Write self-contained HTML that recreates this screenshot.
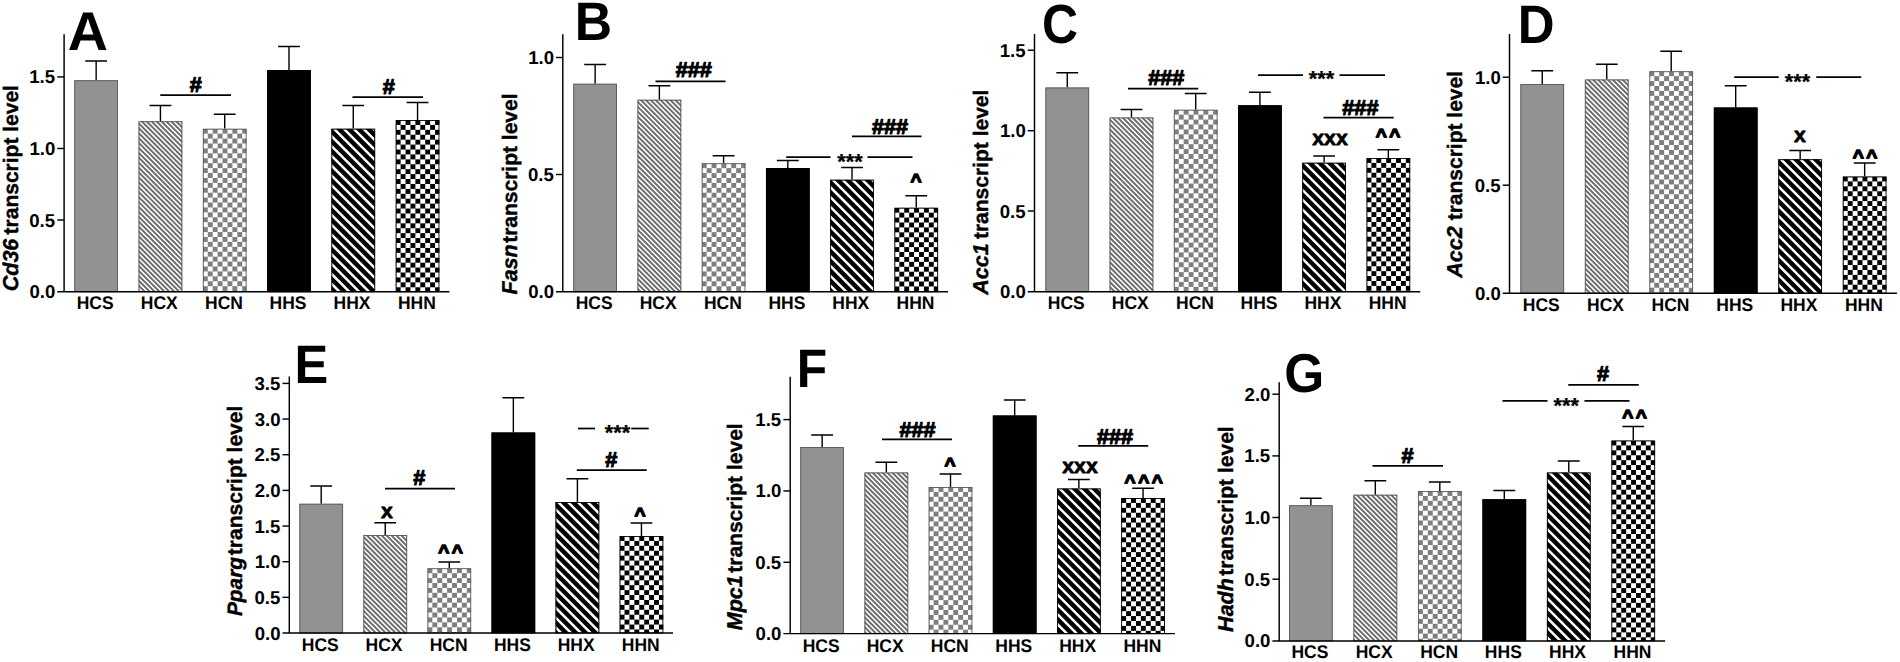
<!DOCTYPE html>
<html lang="en"><head><meta charset="utf-8"><title>Transcript levels</title>
<style>html,body{margin:0;padding:0;background:#fff}body{width:1900px;height:662px;overflow:hidden}svg{display:block}text{font-family:"Liberation Sans", Arial, Helvetica, sans-serif;font-weight:bold;fill:#000;text-rendering:geometricPrecision}.s{stroke:#000;stroke-linejoin:round}</style>
</head><body>
<svg width="1900" height="662" viewBox="0 0 1900 662">
<defs>
<pattern id="checkg" patternUnits="userSpaceOnUse" width="9.84" height="9.84"><rect width="9.84" height="9.84" fill="#fff"/><rect width="4.92" height="4.92" fill="#7e7e7e"/><rect x="4.92" y="4.92" width="4.92" height="4.92" fill="#7e7e7e"/></pattern>
<pattern id="checkk" patternUnits="userSpaceOnUse" width="9.84" height="9.84"><rect width="9.84" height="9.84" fill="#fff"/><rect width="4.92" height="4.92" fill="#000"/><rect x="4.92" y="4.92" width="4.92" height="4.92" fill="#000"/></pattern>
</defs>
<rect width="1900" height="662" fill="#fff"/>
<g>
<path d="M96.15 80.25 V61 M85.25 61 H107.05" stroke="#000" stroke-width="1.4" fill="none"/>
<g transform="translate(74.3 80.25)"><rect width="43.7" height="211.45" fill="#929292"/><rect x="0.45" y="0.45" width="42.8" height="211" fill="none" stroke="#5a5a5a" stroke-width="0.9"/></g>
<text transform="translate(76.73 309) scale(1 1.05)" font-size="17.5">HCS</text>
<path d="M160.43 121.25 V105.5 M149.53 105.5 H171.33" stroke="#000" stroke-width="1.4" fill="none"/>
<g transform="translate(138.58 121.25)"><clipPath id="c0"><rect width="43.7" height="170.45"/></clipPath><rect width="43.7" height="170.45" fill="#6c6c6c"/><path clip-path="url(#c0)" d="M-173.6 -2l174.45 174.45M-168.68 -2l174.45 174.45M-163.76 -2l174.45 174.45M-158.84 -2l174.45 174.45M-153.92 -2l174.45 174.45M-149 -2l174.45 174.45M-144.08 -2l174.45 174.45M-139.16 -2l174.45 174.45M-134.24 -2l174.45 174.45M-129.32 -2l174.45 174.45M-124.4 -2l174.45 174.45M-119.48 -2l174.45 174.45M-114.56 -2l174.45 174.45M-109.64 -2l174.45 174.45M-104.72 -2l174.45 174.45M-99.8 -2l174.45 174.45M-94.88 -2l174.45 174.45M-89.96 -2l174.45 174.45M-85.04 -2l174.45 174.45M-80.12 -2l174.45 174.45M-75.2 -2l174.45 174.45M-70.28 -2l174.45 174.45M-65.36 -2l174.45 174.45M-60.44 -2l174.45 174.45M-55.52 -2l174.45 174.45M-50.6 -2l174.45 174.45M-45.68 -2l174.45 174.45M-40.76 -2l174.45 174.45M-35.84 -2l174.45 174.45M-30.92 -2l174.45 174.45M-26 -2l174.45 174.45M-21.08 -2l174.45 174.45M-16.16 -2l174.45 174.45M-11.24 -2l174.45 174.45M-6.32 -2l174.45 174.45M-1.4 -2l174.45 174.45M3.52 -2l174.45 174.45M8.44 -2l174.45 174.45M13.36 -2l174.45 174.45M18.28 -2l174.45 174.45M23.2 -2l174.45 174.45M28.12 -2l174.45 174.45M33.04 -2l174.45 174.45M37.96 -2l174.45 174.45M42.88 -2l174.45 174.45" stroke="#fff" stroke-width="1.55" fill="none"/><rect x="0.45" y="0.45" width="42.8" height="170" fill="none" stroke="#5a5a5a" stroke-width="0.9"/></g>
<text transform="translate(140.74 309) scale(1 1.05)" font-size="17.5">HCX</text>
<path d="M224.71 128.75 V114.25 M213.81 114.25 H235.61" stroke="#000" stroke-width="1.4" fill="none"/>
<g transform="translate(202.86 128.75)"><rect width="43.7" height="162.95" fill="url(#checkg)"/><rect x="0.45" y="0.45" width="42.8" height="162.5" fill="none" stroke="#5a5a5a" stroke-width="0.9"/></g>
<text transform="translate(205.04 309) scale(1 1.05)" font-size="17.5">HCN</text>
<path d="M288.99 70 V46.5 M278.09 46.5 H299.89" stroke="#000" stroke-width="1.4" fill="none"/>
<g transform="translate(267.14 70)"><rect width="43.7" height="221.7" fill="#000"/><rect x="0.45" y="0.45" width="42.8" height="221.25" fill="none" stroke="#000" stroke-width="0.9"/></g>
<text transform="translate(269.56 309) scale(1 1.05)" font-size="17.5">HHS</text>
<path d="M353.27 128.75 V105.5 M342.37 105.5 H364.17" stroke="#000" stroke-width="1.4" fill="none"/>
<g transform="translate(331.42 128.75)"><clipPath id="c1"><rect width="43.7" height="162.95"/></clipPath><rect width="43.7" height="162.95" fill="#000"/><path clip-path="url(#c1)" d="M-166.73 -2l166.95 166.95M-156.89 -2l166.95 166.95M-147.05 -2l166.95 166.95M-137.21 -2l166.95 166.95M-127.37 -2l166.95 166.95M-117.53 -2l166.95 166.95M-107.69 -2l166.95 166.95M-97.85 -2l166.95 166.95M-88.01 -2l166.95 166.95M-78.17 -2l166.95 166.95M-68.33 -2l166.95 166.95M-58.49 -2l166.95 166.95M-48.65 -2l166.95 166.95M-38.81 -2l166.95 166.95M-28.97 -2l166.95 166.95M-19.13 -2l166.95 166.95M-9.29 -2l166.95 166.95M0.55 -2l166.95 166.95M10.39 -2l166.95 166.95M20.23 -2l166.95 166.95M30.07 -2l166.95 166.95M39.91 -2l166.95 166.95M49.75 -2l166.95 166.95" stroke="#fff" stroke-width="2.5" fill="none"/><rect x="0.45" y="0.45" width="42.8" height="162.5" fill="none" stroke="#000" stroke-width="0.9"/></g>
<text transform="translate(333.58 309) scale(1 1.05)" font-size="17.5">HHX</text>
<path d="M417.55 120 V102.5 M406.65 102.5 H428.45" stroke="#000" stroke-width="1.4" fill="none"/>
<g transform="translate(395.7 120)"><rect width="43.7" height="171.7" fill="url(#checkk)"/><rect x="0.45" y="0.45" width="42.8" height="171.25" fill="none" stroke="#000" stroke-width="0.9"/></g>
<text transform="translate(397.88 309) scale(1 1.05)" font-size="17.5">HHN</text>
<path d="M64.1 34.3 V291.7 M57.3 291.7 H449.4" stroke="#000" stroke-width="1.45" fill="none"/>
<text x="29.49" y="298.2" font-size="18.6">0.0</text>
<path d="M57.3 220 H64.1" stroke="#000" stroke-width="1.45"/>
<text x="29.26" y="226.5" font-size="18.6">0.5</text>
<path d="M57.3 148.5 H64.1" stroke="#000" stroke-width="1.45"/>
<text x="29.49" y="155" font-size="18.6">1.0</text>
<path d="M57.3 76.9 H64.1" stroke="#000" stroke-width="1.45"/>
<text x="29.26" y="83.4" font-size="18.6">1.5</text>
<text class="s" transform="translate(18.3 291.27) rotate(-90)" font-size="21.5" font-style="italic" stroke-width="0.4">Cd36</text>
<text class="s" transform="translate(18.3 234.44) rotate(-90)" font-size="21" stroke-width="0.4">transcript level</text>
<text transform="translate(67.71 49.8) scale(0.5567 0.5455)" font-size="100">A</text>
<path d="M160.25 95 H231" stroke="#000" stroke-width="1.75"/>
<path d="M352.5 97 H423" stroke="#000" stroke-width="1.75"/>
<text class="s" x="189.7" y="91.97" font-size="21.7" stroke-width="1.05">#</text>
<text class="s" x="382.7" y="93.97" font-size="21.7" stroke-width="1.05">#</text>
</g>
<g>
<path d="M595.15 83.75 V64.5 M584.25 64.5 H606.05" stroke="#000" stroke-width="1.4" fill="none"/>
<g transform="translate(573.3 83.75)"><rect width="43.7" height="207.95" fill="#929292"/><rect x="0.45" y="0.45" width="42.8" height="207.5" fill="none" stroke="#5a5a5a" stroke-width="0.9"/></g>
<text transform="translate(575.72 309) scale(1 1.05)" font-size="17.5">HCS</text>
<path d="M659.37 99.75 V85.75 M648.47 85.75 H670.27" stroke="#000" stroke-width="1.4" fill="none"/>
<g transform="translate(637.52 99.75)"><clipPath id="c2"><rect width="43.7" height="191.95"/></clipPath><rect width="43.7" height="191.95" fill="#6c6c6c"/><path clip-path="url(#c2)" d="M-198.2 -2l195.95 195.95M-193.28 -2l195.95 195.95M-188.36 -2l195.95 195.95M-183.44 -2l195.95 195.95M-178.52 -2l195.95 195.95M-173.6 -2l195.95 195.95M-168.68 -2l195.95 195.95M-163.76 -2l195.95 195.95M-158.84 -2l195.95 195.95M-153.92 -2l195.95 195.95M-149 -2l195.95 195.95M-144.08 -2l195.95 195.95M-139.16 -2l195.95 195.95M-134.24 -2l195.95 195.95M-129.32 -2l195.95 195.95M-124.4 -2l195.95 195.95M-119.48 -2l195.95 195.95M-114.56 -2l195.95 195.95M-109.64 -2l195.95 195.95M-104.72 -2l195.95 195.95M-99.8 -2l195.95 195.95M-94.88 -2l195.95 195.95M-89.96 -2l195.95 195.95M-85.04 -2l195.95 195.95M-80.12 -2l195.95 195.95M-75.2 -2l195.95 195.95M-70.28 -2l195.95 195.95M-65.36 -2l195.95 195.95M-60.44 -2l195.95 195.95M-55.52 -2l195.95 195.95M-50.6 -2l195.95 195.95M-45.68 -2l195.95 195.95M-40.76 -2l195.95 195.95M-35.84 -2l195.95 195.95M-30.92 -2l195.95 195.95M-26 -2l195.95 195.95M-21.08 -2l195.95 195.95M-16.16 -2l195.95 195.95M-11.24 -2l195.95 195.95M-6.32 -2l195.95 195.95M-1.4 -2l195.95 195.95M3.52 -2l195.95 195.95M8.44 -2l195.95 195.95M13.36 -2l195.95 195.95M18.28 -2l195.95 195.95M23.2 -2l195.95 195.95M28.12 -2l195.95 195.95M33.04 -2l195.95 195.95M37.96 -2l195.95 195.95M42.88 -2l195.95 195.95" stroke="#fff" stroke-width="1.55" fill="none"/><rect x="0.45" y="0.45" width="42.8" height="191.5" fill="none" stroke="#5a5a5a" stroke-width="0.9"/></g>
<text transform="translate(639.68 309) scale(1 1.05)" font-size="17.5">HCX</text>
<path d="M723.59 163.25 V155.75 M712.69 155.75 H734.49" stroke="#000" stroke-width="1.4" fill="none"/>
<g transform="translate(701.74 163.25)"><rect width="43.7" height="128.45" fill="url(#checkg)"/><rect x="0.45" y="0.45" width="42.8" height="128" fill="none" stroke="#5a5a5a" stroke-width="0.9"/></g>
<text transform="translate(703.92 309) scale(1 1.05)" font-size="17.5">HCN</text>
<path d="M787.81 168 V160.5 M776.91 160.5 H798.71" stroke="#000" stroke-width="1.4" fill="none"/>
<g transform="translate(765.96 168)"><rect width="43.7" height="123.7" fill="#000"/><rect x="0.45" y="0.45" width="42.8" height="123.25" fill="none" stroke="#000" stroke-width="0.9"/></g>
<text transform="translate(768.38 309) scale(1 1.05)" font-size="17.5">HHS</text>
<path d="M852.03 179.75 V167.5 M841.13 167.5 H862.93" stroke="#000" stroke-width="1.4" fill="none"/>
<g transform="translate(830.18 179.75)"><clipPath id="c3"><rect width="43.7" height="111.95"/></clipPath><rect width="43.7" height="111.95" fill="#000"/><path clip-path="url(#c3)" d="M-117.53 -2l115.95 115.95M-107.69 -2l115.95 115.95M-97.85 -2l115.95 115.95M-88.01 -2l115.95 115.95M-78.17 -2l115.95 115.95M-68.33 -2l115.95 115.95M-58.49 -2l115.95 115.95M-48.65 -2l115.95 115.95M-38.81 -2l115.95 115.95M-28.97 -2l115.95 115.95M-19.13 -2l115.95 115.95M-9.29 -2l115.95 115.95M0.55 -2l115.95 115.95M10.39 -2l115.95 115.95M20.23 -2l115.95 115.95M30.07 -2l115.95 115.95M39.91 -2l115.95 115.95M49.75 -2l115.95 115.95" stroke="#fff" stroke-width="2.5" fill="none"/><rect x="0.45" y="0.45" width="42.8" height="111.5" fill="none" stroke="#000" stroke-width="0.9"/></g>
<text transform="translate(832.34 309) scale(1 1.05)" font-size="17.5">HHX</text>
<path d="M916.25 207.75 V195.75 M905.35 195.75 H927.15" stroke="#000" stroke-width="1.4" fill="none"/>
<g transform="translate(894.4 207.75)"><rect width="43.7" height="83.95" fill="url(#checkk)"/><rect x="0.45" y="0.45" width="42.8" height="83.5" fill="none" stroke="#000" stroke-width="0.9"/></g>
<text transform="translate(896.58 309) scale(1 1.05)" font-size="17.5">HHN</text>
<path d="M562.8 34.3 V291.7 M556 291.7 H948" stroke="#000" stroke-width="1.45" fill="none"/>
<text x="528.19" y="298.2" font-size="18.6">0.0</text>
<path d="M556 174.5 H562.8" stroke="#000" stroke-width="1.45"/>
<text x="527.96" y="181" font-size="18.6">0.5</text>
<path d="M556 57.5 H562.8" stroke="#000" stroke-width="1.45"/>
<text x="528.19" y="64" font-size="18.6">1.0</text>
<text class="s" transform="translate(516.8 294.48) rotate(-90)" font-size="21.5" font-style="italic" stroke-width="0.4">Fasn</text>
<text class="s" transform="translate(516.8 242.84) rotate(-90)" font-size="21" stroke-width="0.4">transcript level</text>
<text transform="translate(574.81 39.8) scale(0.5164 0.5425)" font-size="100">B</text>
<path d="M655.5 81.25 H725.5" stroke="#000" stroke-width="1.75"/>
<path d="M852 136.25 H921.5" stroke="#000" stroke-width="1.75"/>
<path d="M786.25 157 H830.5" stroke="#000" stroke-width="1.75"/>
<path d="M867.5 157 H912.5" stroke="#000" stroke-width="1.75"/>
<text class="s" x="675.63" y="77.47" font-size="21.7" stroke-width="1.05">###</text>
<text class="s" x="871.88" y="133.97" font-size="21.7" stroke-width="1.05">###</text>
<text class="s" x="837.33" y="168.67" font-size="21.7" stroke-width="0.3">***</text>
<text class="s" x="910.47" y="186.74" font-size="18.9" stroke-width="1.5" letter-spacing="2.56">^</text>
</g>
<g>
<path d="M1067.25 87.5 V72.75 M1056.35 72.75 H1078.15" stroke="#000" stroke-width="1.4" fill="none"/>
<g transform="translate(1045.4 87.5)"><rect width="43.7" height="204.2" fill="#929292"/><rect x="0.45" y="0.45" width="42.8" height="203.75" fill="none" stroke="#5a5a5a" stroke-width="0.9"/></g>
<text transform="translate(1047.83 309) scale(1 1.05)" font-size="17.5">HCS</text>
<path d="M1131.47 117.5 V109.5 M1120.57 109.5 H1142.37" stroke="#000" stroke-width="1.4" fill="none"/>
<g transform="translate(1109.62 117.5)"><clipPath id="c4"><rect width="43.7" height="174.2"/></clipPath><rect width="43.7" height="174.2" fill="#6c6c6c"/><path clip-path="url(#c4)" d="M-178.52 -2l178.2 178.2M-173.6 -2l178.2 178.2M-168.68 -2l178.2 178.2M-163.76 -2l178.2 178.2M-158.84 -2l178.2 178.2M-153.92 -2l178.2 178.2M-149 -2l178.2 178.2M-144.08 -2l178.2 178.2M-139.16 -2l178.2 178.2M-134.24 -2l178.2 178.2M-129.32 -2l178.2 178.2M-124.4 -2l178.2 178.2M-119.48 -2l178.2 178.2M-114.56 -2l178.2 178.2M-109.64 -2l178.2 178.2M-104.72 -2l178.2 178.2M-99.8 -2l178.2 178.2M-94.88 -2l178.2 178.2M-89.96 -2l178.2 178.2M-85.04 -2l178.2 178.2M-80.12 -2l178.2 178.2M-75.2 -2l178.2 178.2M-70.28 -2l178.2 178.2M-65.36 -2l178.2 178.2M-60.44 -2l178.2 178.2M-55.52 -2l178.2 178.2M-50.6 -2l178.2 178.2M-45.68 -2l178.2 178.2M-40.76 -2l178.2 178.2M-35.84 -2l178.2 178.2M-30.92 -2l178.2 178.2M-26 -2l178.2 178.2M-21.08 -2l178.2 178.2M-16.16 -2l178.2 178.2M-11.24 -2l178.2 178.2M-6.32 -2l178.2 178.2M-1.4 -2l178.2 178.2M3.52 -2l178.2 178.2M8.44 -2l178.2 178.2M13.36 -2l178.2 178.2M18.28 -2l178.2 178.2M23.2 -2l178.2 178.2M28.12 -2l178.2 178.2M33.04 -2l178.2 178.2M37.96 -2l178.2 178.2M42.88 -2l178.2 178.2" stroke="#fff" stroke-width="1.55" fill="none"/><rect x="0.45" y="0.45" width="42.8" height="173.75" fill="none" stroke="#5a5a5a" stroke-width="0.9"/></g>
<text transform="translate(1111.78 309) scale(1 1.05)" font-size="17.5">HCX</text>
<path d="M1195.69 109.75 V93.5 M1184.79 93.5 H1206.59" stroke="#000" stroke-width="1.4" fill="none"/>
<g transform="translate(1173.84 109.75)"><rect width="43.7" height="181.95" fill="url(#checkg)"/><rect x="0.45" y="0.45" width="42.8" height="181.5" fill="none" stroke="#5a5a5a" stroke-width="0.9"/></g>
<text transform="translate(1176.02 309) scale(1 1.05)" font-size="17.5">HCN</text>
<path d="M1259.91 105.25 V92.25 M1249.01 92.25 H1270.81" stroke="#000" stroke-width="1.4" fill="none"/>
<g transform="translate(1238.06 105.25)"><rect width="43.7" height="186.45" fill="#000"/><rect x="0.45" y="0.45" width="42.8" height="186" fill="none" stroke="#000" stroke-width="0.9"/></g>
<text transform="translate(1240.49 309) scale(1 1.05)" font-size="17.5">HHS</text>
<path d="M1324.13 162.75 V156 M1313.23 156 H1335.03" stroke="#000" stroke-width="1.4" fill="none"/>
<g transform="translate(1302.28 162.75)"><clipPath id="c5"><rect width="43.7" height="128.95"/></clipPath><rect width="43.7" height="128.95" fill="#000"/><path clip-path="url(#c5)" d="M-137.21 -2l132.95 132.95M-127.37 -2l132.95 132.95M-117.53 -2l132.95 132.95M-107.69 -2l132.95 132.95M-97.85 -2l132.95 132.95M-88.01 -2l132.95 132.95M-78.17 -2l132.95 132.95M-68.33 -2l132.95 132.95M-58.49 -2l132.95 132.95M-48.65 -2l132.95 132.95M-38.81 -2l132.95 132.95M-28.97 -2l132.95 132.95M-19.13 -2l132.95 132.95M-9.29 -2l132.95 132.95M0.55 -2l132.95 132.95M10.39 -2l132.95 132.95M20.23 -2l132.95 132.95M30.07 -2l132.95 132.95M39.91 -2l132.95 132.95M49.75 -2l132.95 132.95" stroke="#fff" stroke-width="2.5" fill="none"/><rect x="0.45" y="0.45" width="42.8" height="128.5" fill="none" stroke="#000" stroke-width="0.9"/></g>
<text transform="translate(1304.44 309) scale(1 1.05)" font-size="17.5">HHX</text>
<path d="M1388.35 158 V149.75 M1377.45 149.75 H1399.25" stroke="#000" stroke-width="1.4" fill="none"/>
<g transform="translate(1366.5 158)"><rect width="43.7" height="133.7" fill="url(#checkk)"/><rect x="0.45" y="0.45" width="42.8" height="133.25" fill="none" stroke="#000" stroke-width="0.9"/></g>
<text transform="translate(1368.68 309) scale(1 1.05)" font-size="17.5">HHN</text>
<path d="M1034.5 34.1 V291.7 M1027.7 291.7 H1420.3" stroke="#000" stroke-width="1.45" fill="none"/>
<text x="999.89" y="298.2" font-size="18.6">0.0</text>
<path d="M1027.7 211 H1034.5" stroke="#000" stroke-width="1.45"/>
<text x="999.66" y="217.5" font-size="18.6">0.5</text>
<path d="M1027.7 130.7 H1034.5" stroke="#000" stroke-width="1.45"/>
<text x="999.89" y="137.2" font-size="18.6">1.0</text>
<path d="M1027.7 50.2 H1034.5" stroke="#000" stroke-width="1.45"/>
<text x="999.66" y="56.7" font-size="18.6">1.5</text>
<text class="s" transform="translate(988.3 294.67) rotate(-90)" font-size="21.5" font-style="italic" stroke-width="0.4">Acc1</text>
<text class="s" transform="translate(988.3 239.05) rotate(-90)" font-size="21" stroke-width="0.4">transcript level</text>
<text transform="translate(1042 42.75) scale(0.4992 0.5519)" font-size="100">C</text>
<path d="M1128 88.5 H1198.25" stroke="#000" stroke-width="1.75"/>
<path d="M1323.5 117.7 H1393.7" stroke="#000" stroke-width="1.75"/>
<path d="M1258 75 H1303" stroke="#000" stroke-width="1.75"/>
<path d="M1339.5 75 H1385" stroke="#000" stroke-width="1.75"/>
<text class="s" x="1148.13" y="85.27" font-size="21.7" stroke-width="1.05">###</text>
<text class="s" x="1342.28" y="114.88" font-size="21.7" stroke-width="1.05">###</text>
<text class="s" x="1308.83" y="86.37" font-size="21.7" stroke-width="0.3">***</text>
<text class="s" x="1312.24" y="145.43" font-size="21.3" stroke-width="0.75">xxx</text>
<text class="s" x="1375.67" y="142.04" font-size="18.9" stroke-width="1.5" letter-spacing="2.56">^^</text>
</g>
<g>
<path d="M1542.25 84 V70.75 M1531.35 70.75 H1553.15" stroke="#000" stroke-width="1.4" fill="none"/>
<g transform="translate(1520.4 84)"><rect width="43.7" height="209.2" fill="#929292"/><rect x="0.45" y="0.45" width="42.8" height="208.75" fill="none" stroke="#5a5a5a" stroke-width="0.9"/></g>
<text transform="translate(1522.83 311) scale(1 1.05)" font-size="17.5">HCS</text>
<path d="M1606.73 79.5 V64.25 M1595.83 64.25 H1617.63" stroke="#000" stroke-width="1.4" fill="none"/>
<g transform="translate(1584.88 79.5)"><clipPath id="c6"><rect width="43.7" height="213.7"/></clipPath><rect width="43.7" height="213.7" fill="#6c6c6c"/><path clip-path="url(#c6)" d="M-217.88 -2l217.7 217.7M-212.96 -2l217.7 217.7M-208.04 -2l217.7 217.7M-203.12 -2l217.7 217.7M-198.2 -2l217.7 217.7M-193.28 -2l217.7 217.7M-188.36 -2l217.7 217.7M-183.44 -2l217.7 217.7M-178.52 -2l217.7 217.7M-173.6 -2l217.7 217.7M-168.68 -2l217.7 217.7M-163.76 -2l217.7 217.7M-158.84 -2l217.7 217.7M-153.92 -2l217.7 217.7M-149 -2l217.7 217.7M-144.08 -2l217.7 217.7M-139.16 -2l217.7 217.7M-134.24 -2l217.7 217.7M-129.32 -2l217.7 217.7M-124.4 -2l217.7 217.7M-119.48 -2l217.7 217.7M-114.56 -2l217.7 217.7M-109.64 -2l217.7 217.7M-104.72 -2l217.7 217.7M-99.8 -2l217.7 217.7M-94.88 -2l217.7 217.7M-89.96 -2l217.7 217.7M-85.04 -2l217.7 217.7M-80.12 -2l217.7 217.7M-75.2 -2l217.7 217.7M-70.28 -2l217.7 217.7M-65.36 -2l217.7 217.7M-60.44 -2l217.7 217.7M-55.52 -2l217.7 217.7M-50.6 -2l217.7 217.7M-45.68 -2l217.7 217.7M-40.76 -2l217.7 217.7M-35.84 -2l217.7 217.7M-30.92 -2l217.7 217.7M-26 -2l217.7 217.7M-21.08 -2l217.7 217.7M-16.16 -2l217.7 217.7M-11.24 -2l217.7 217.7M-6.32 -2l217.7 217.7M-1.4 -2l217.7 217.7M3.52 -2l217.7 217.7M8.44 -2l217.7 217.7M13.36 -2l217.7 217.7M18.28 -2l217.7 217.7M23.2 -2l217.7 217.7M28.12 -2l217.7 217.7M33.04 -2l217.7 217.7M37.96 -2l217.7 217.7M42.88 -2l217.7 217.7" stroke="#fff" stroke-width="1.55" fill="none"/><rect x="0.45" y="0.45" width="42.8" height="213.25" fill="none" stroke="#5a5a5a" stroke-width="0.9"/></g>
<text transform="translate(1587.04 311) scale(1 1.05)" font-size="17.5">HCX</text>
<path d="M1671.21 71.25 V51.25 M1660.31 51.25 H1682.11" stroke="#000" stroke-width="1.4" fill="none"/>
<g transform="translate(1649.36 71.25)"><rect width="43.7" height="221.95" fill="url(#checkg)"/><rect x="0.45" y="0.45" width="42.8" height="221.5" fill="none" stroke="#5a5a5a" stroke-width="0.9"/></g>
<text transform="translate(1651.54 311) scale(1 1.05)" font-size="17.5">HCN</text>
<path d="M1735.69 107.5 V85.75 M1724.79 85.75 H1746.59" stroke="#000" stroke-width="1.4" fill="none"/>
<g transform="translate(1713.84 107.5)"><rect width="43.7" height="185.7" fill="#000"/><rect x="0.45" y="0.45" width="42.8" height="185.25" fill="none" stroke="#000" stroke-width="0.9"/></g>
<text transform="translate(1716.27 311) scale(1 1.05)" font-size="17.5">HHS</text>
<path d="M1800.17 159.25 V150.5 M1789.27 150.5 H1811.07" stroke="#000" stroke-width="1.4" fill="none"/>
<g transform="translate(1778.32 159.25)"><clipPath id="c7"><rect width="43.7" height="133.95"/></clipPath><rect width="43.7" height="133.95" fill="#000"/><path clip-path="url(#c7)" d="M-137.21 -2l137.95 137.95M-127.37 -2l137.95 137.95M-117.53 -2l137.95 137.95M-107.69 -2l137.95 137.95M-97.85 -2l137.95 137.95M-88.01 -2l137.95 137.95M-78.17 -2l137.95 137.95M-68.33 -2l137.95 137.95M-58.49 -2l137.95 137.95M-48.65 -2l137.95 137.95M-38.81 -2l137.95 137.95M-28.97 -2l137.95 137.95M-19.13 -2l137.95 137.95M-9.29 -2l137.95 137.95M0.55 -2l137.95 137.95M10.39 -2l137.95 137.95M20.23 -2l137.95 137.95M30.07 -2l137.95 137.95M39.91 -2l137.95 137.95M49.75 -2l137.95 137.95" stroke="#fff" stroke-width="2.5" fill="none"/><rect x="0.45" y="0.45" width="42.8" height="133.5" fill="none" stroke="#000" stroke-width="0.9"/></g>
<text transform="translate(1780.48 311) scale(1 1.05)" font-size="17.5">HHX</text>
<path d="M1864.65 176.5 V163 M1853.75 163 H1875.55" stroke="#000" stroke-width="1.4" fill="none"/>
<g transform="translate(1842.8 176.5)"><rect width="43.7" height="116.7" fill="url(#checkk)"/><rect x="0.45" y="0.45" width="42.8" height="116.25" fill="none" stroke="#000" stroke-width="0.9"/></g>
<text transform="translate(1844.98 311) scale(1 1.05)" font-size="17.5">HHN</text>
<path d="M1509.5 34.1 V293.2 M1502.7 293.2 H1896.9" stroke="#000" stroke-width="1.45" fill="none"/>
<text x="1474.89" y="299.7" font-size="18.6">0.0</text>
<path d="M1502.7 185.2 H1509.5" stroke="#000" stroke-width="1.45"/>
<text x="1474.66" y="191.7" font-size="18.6">0.5</text>
<path d="M1502.7 77.2 H1509.5" stroke="#000" stroke-width="1.45"/>
<text x="1474.89" y="83.7" font-size="18.6">1.0</text>
<text class="s" transform="translate(1462.2 277.67) rotate(-90)" font-size="21.5" font-style="italic" stroke-width="0.4">Acc2</text>
<text class="s" transform="translate(1462.2 220.34) rotate(-90)" font-size="21" stroke-width="0.4">transcript level</text>
<text transform="translate(1517.76 43.3) scale(0.5094 0.5404)" font-size="100">D</text>
<path d="M1734.25 77 H1778.75" stroke="#000" stroke-width="1.75"/>
<path d="M1816.25 77 H1861.25" stroke="#000" stroke-width="1.75"/>
<text class="s" x="1784.83" y="88.57" font-size="21.7" stroke-width="0.3">***</text>
<text class="s" x="1794.09" y="141.93" font-size="21.3" stroke-width="0.75">x</text>
<text class="s" x="1852.67" y="163.24" font-size="18.9" stroke-width="1.5" letter-spacing="2.56">^^</text>
</g>
<g>
<path d="M321.2 503.75 V486 M310.3 486 H332.1" stroke="#000" stroke-width="1.4" fill="none"/>
<g transform="translate(299.35 503.75)"><rect width="43.7" height="129.25" fill="#929292"/><rect x="0.45" y="0.45" width="42.8" height="128.8" fill="none" stroke="#5a5a5a" stroke-width="0.9"/></g>
<text transform="translate(301.78 651) scale(1 1.05)" font-size="17.5">HCS</text>
<path d="M385.25 535 V522.75 M374.35 522.75 H396.15" stroke="#000" stroke-width="1.4" fill="none"/>
<g transform="translate(363.4 535)"><clipPath id="c8"><rect width="43.7" height="98"/></clipPath><rect width="43.7" height="98" fill="#6c6c6c"/><path clip-path="url(#c8)" d="M-104.72 -2l102 102M-99.8 -2l102 102M-94.88 -2l102 102M-89.96 -2l102 102M-85.04 -2l102 102M-80.12 -2l102 102M-75.2 -2l102 102M-70.28 -2l102 102M-65.36 -2l102 102M-60.44 -2l102 102M-55.52 -2l102 102M-50.6 -2l102 102M-45.68 -2l102 102M-40.76 -2l102 102M-35.84 -2l102 102M-30.92 -2l102 102M-26 -2l102 102M-21.08 -2l102 102M-16.16 -2l102 102M-11.24 -2l102 102M-6.32 -2l102 102M-1.4 -2l102 102M3.52 -2l102 102M8.44 -2l102 102M13.36 -2l102 102M18.28 -2l102 102M23.2 -2l102 102M28.12 -2l102 102M33.04 -2l102 102M37.96 -2l102 102M42.88 -2l102 102" stroke="#fff" stroke-width="1.55" fill="none"/><rect x="0.45" y="0.45" width="42.8" height="97.55" fill="none" stroke="#5a5a5a" stroke-width="0.9"/></g>
<text transform="translate(365.56 651) scale(1 1.05)" font-size="17.5">HCX</text>
<path d="M449.3 568.25 V562 M438.4 562 H460.2" stroke="#000" stroke-width="1.4" fill="none"/>
<g transform="translate(427.45 568.25)"><rect width="43.7" height="64.75" fill="url(#checkg)"/><rect x="0.45" y="0.45" width="42.8" height="64.3" fill="none" stroke="#5a5a5a" stroke-width="0.9"/></g>
<text transform="translate(429.63 651) scale(1 1.05)" font-size="17.5">HCN</text>
<path d="M513.35 432.5 V397.75 M502.45 397.75 H524.25" stroke="#000" stroke-width="1.4" fill="none"/>
<g transform="translate(491.5 432.5)"><rect width="43.7" height="200.5" fill="#000"/><rect x="0.45" y="0.45" width="42.8" height="200.05" fill="none" stroke="#000" stroke-width="0.9"/></g>
<text transform="translate(493.92 651) scale(1 1.05)" font-size="17.5">HHS</text>
<path d="M577.4 502 V478.75 M566.5 478.75 H588.3" stroke="#000" stroke-width="1.4" fill="none"/>
<g transform="translate(555.55 502)"><clipPath id="c9"><rect width="43.7" height="131"/></clipPath><rect width="43.7" height="131" fill="#000"/><path clip-path="url(#c9)" d="M-137.21 -2l135 135M-127.37 -2l135 135M-117.53 -2l135 135M-107.69 -2l135 135M-97.85 -2l135 135M-88.01 -2l135 135M-78.17 -2l135 135M-68.33 -2l135 135M-58.49 -2l135 135M-48.65 -2l135 135M-38.81 -2l135 135M-28.97 -2l135 135M-19.13 -2l135 135M-9.29 -2l135 135M0.55 -2l135 135M10.39 -2l135 135M20.23 -2l135 135M30.07 -2l135 135M39.91 -2l135 135M49.75 -2l135 135" stroke="#fff" stroke-width="2.5" fill="none"/><rect x="0.45" y="0.45" width="42.8" height="130.55" fill="none" stroke="#000" stroke-width="0.9"/></g>
<text transform="translate(557.71 651) scale(1 1.05)" font-size="17.5">HHX</text>
<path d="M641.45 536 V523 M630.55 523 H652.35" stroke="#000" stroke-width="1.4" fill="none"/>
<g transform="translate(619.6 536)"><rect width="43.7" height="97" fill="url(#checkk)"/><rect x="0.45" y="0.45" width="42.8" height="96.55" fill="none" stroke="#000" stroke-width="0.9"/></g>
<text transform="translate(621.78 651) scale(1 1.05)" font-size="17.5">HHN</text>
<path d="M289.3 376.5 V633 M282.5 633 H673" stroke="#000" stroke-width="1.45" fill="none"/>
<text x="254.69" y="639.5" font-size="18.6">0.0</text>
<path d="M282.5 597.35 H289.3" stroke="#000" stroke-width="1.45"/>
<text x="254.46" y="603.85" font-size="18.6">0.5</text>
<path d="M282.5 561.7 H289.3" stroke="#000" stroke-width="1.45"/>
<text x="254.69" y="568.2" font-size="18.6">1.0</text>
<path d="M282.5 526.05 H289.3" stroke="#000" stroke-width="1.45"/>
<text x="254.46" y="532.55" font-size="18.6">1.5</text>
<path d="M282.5 490.4 H289.3" stroke="#000" stroke-width="1.45"/>
<text x="254.69" y="496.9" font-size="18.6">2.0</text>
<path d="M282.5 454.7 H289.3" stroke="#000" stroke-width="1.45"/>
<text x="254.46" y="461.2" font-size="18.6">2.5</text>
<path d="M282.5 419.05 H289.3" stroke="#000" stroke-width="1.45"/>
<text x="254.69" y="425.55" font-size="18.6">3.0</text>
<path d="M282.5 383.4 H289.3" stroke="#000" stroke-width="1.45"/>
<text x="254.46" y="389.9" font-size="18.6">3.5</text>
<text class="s" transform="translate(242.2 616.07) rotate(-90)" font-size="20.9" font-style="italic" stroke-width="0.4">Pparg</text>
<text class="s" transform="translate(242.2 555.14) rotate(-90)" font-size="21" stroke-width="0.4">transcript level</text>
<text transform="translate(294.39 383.4) scale(0.5054 0.5404)" font-size="100">E</text>
<path d="M385 488.5 H455" stroke="#000" stroke-width="1.75"/>
<path d="M576.75 470 H646.75" stroke="#000" stroke-width="1.75"/>
<path d="M578 428.5 H595" stroke="#000" stroke-width="1.75"/>
<path d="M631.25 428.5 H648.75" stroke="#000" stroke-width="1.75"/>
<text class="s" x="413.2" y="484.98" font-size="21.7" stroke-width="1.05">#</text>
<text class="s" x="605.2" y="466.98" font-size="21.7" stroke-width="1.05">#</text>
<text class="s" x="604.83" y="440.07" font-size="21.7" stroke-width="0.3">***</text>
<text class="s" x="381.09" y="517.88" font-size="21.3" stroke-width="0.75">x</text>
<text class="s" x="438.17" y="558.24" font-size="18.9" stroke-width="1.5" letter-spacing="2.56">^^</text>
<text class="s" x="634.47" y="521.44" font-size="18.9" stroke-width="1.5" letter-spacing="2.56">^</text>
</g>
<g>
<path d="M822.15 447 V435 M811.25 435 H833.05" stroke="#000" stroke-width="1.4" fill="none"/>
<g transform="translate(800.3 447)"><rect width="43.7" height="186.6" fill="#929292"/><rect x="0.45" y="0.45" width="42.8" height="186.15" fill="none" stroke="#5a5a5a" stroke-width="0.9"/></g>
<text transform="translate(802.72 652) scale(1 1.05)" font-size="17.5">HCS</text>
<path d="M886.33 472.5 V462.25 M875.43 462.25 H897.23" stroke="#000" stroke-width="1.4" fill="none"/>
<g transform="translate(864.48 472.5)"><clipPath id="c10"><rect width="43.7" height="161.1"/></clipPath><rect width="43.7" height="161.1" fill="#6c6c6c"/><path clip-path="url(#c10)" d="M-163.76 -2l165.1 165.1M-158.84 -2l165.1 165.1M-153.92 -2l165.1 165.1M-149 -2l165.1 165.1M-144.08 -2l165.1 165.1M-139.16 -2l165.1 165.1M-134.24 -2l165.1 165.1M-129.32 -2l165.1 165.1M-124.4 -2l165.1 165.1M-119.48 -2l165.1 165.1M-114.56 -2l165.1 165.1M-109.64 -2l165.1 165.1M-104.72 -2l165.1 165.1M-99.8 -2l165.1 165.1M-94.88 -2l165.1 165.1M-89.96 -2l165.1 165.1M-85.04 -2l165.1 165.1M-80.12 -2l165.1 165.1M-75.2 -2l165.1 165.1M-70.28 -2l165.1 165.1M-65.36 -2l165.1 165.1M-60.44 -2l165.1 165.1M-55.52 -2l165.1 165.1M-50.6 -2l165.1 165.1M-45.68 -2l165.1 165.1M-40.76 -2l165.1 165.1M-35.84 -2l165.1 165.1M-30.92 -2l165.1 165.1M-26 -2l165.1 165.1M-21.08 -2l165.1 165.1M-16.16 -2l165.1 165.1M-11.24 -2l165.1 165.1M-6.32 -2l165.1 165.1M-1.4 -2l165.1 165.1M3.52 -2l165.1 165.1M8.44 -2l165.1 165.1M13.36 -2l165.1 165.1M18.28 -2l165.1 165.1M23.2 -2l165.1 165.1M28.12 -2l165.1 165.1M33.04 -2l165.1 165.1M37.96 -2l165.1 165.1M42.88 -2l165.1 165.1" stroke="#fff" stroke-width="1.55" fill="none"/><rect x="0.45" y="0.45" width="42.8" height="160.65" fill="none" stroke="#5a5a5a" stroke-width="0.9"/></g>
<text transform="translate(866.64 652) scale(1 1.05)" font-size="17.5">HCX</text>
<path d="M950.51 487 V474 M939.61 474 H961.41" stroke="#000" stroke-width="1.4" fill="none"/>
<g transform="translate(928.66 487)"><rect width="43.7" height="146.6" fill="url(#checkg)"/><rect x="0.45" y="0.45" width="42.8" height="146.15" fill="none" stroke="#5a5a5a" stroke-width="0.9"/></g>
<text transform="translate(930.84 652) scale(1 1.05)" font-size="17.5">HCN</text>
<path d="M1014.69 415.5 V400 M1003.79 400 H1025.59" stroke="#000" stroke-width="1.4" fill="none"/>
<g transform="translate(992.84 415.5)"><rect width="43.7" height="218.1" fill="#000"/><rect x="0.45" y="0.45" width="42.8" height="217.65" fill="none" stroke="#000" stroke-width="0.9"/></g>
<text transform="translate(995.26 652) scale(1 1.05)" font-size="17.5">HHS</text>
<path d="M1078.87 488.5 V479.5 M1067.97 479.5 H1089.77" stroke="#000" stroke-width="1.4" fill="none"/>
<g transform="translate(1057.02 488.5)"><clipPath id="c11"><rect width="43.7" height="145.1"/></clipPath><rect width="43.7" height="145.1" fill="#000"/><path clip-path="url(#c11)" d="M-156.89 -2l149.1 149.1M-147.05 -2l149.1 149.1M-137.21 -2l149.1 149.1M-127.37 -2l149.1 149.1M-117.53 -2l149.1 149.1M-107.69 -2l149.1 149.1M-97.85 -2l149.1 149.1M-88.01 -2l149.1 149.1M-78.17 -2l149.1 149.1M-68.33 -2l149.1 149.1M-58.49 -2l149.1 149.1M-48.65 -2l149.1 149.1M-38.81 -2l149.1 149.1M-28.97 -2l149.1 149.1M-19.13 -2l149.1 149.1M-9.29 -2l149.1 149.1M0.55 -2l149.1 149.1M10.39 -2l149.1 149.1M20.23 -2l149.1 149.1M30.07 -2l149.1 149.1M39.91 -2l149.1 149.1M49.75 -2l149.1 149.1" stroke="#fff" stroke-width="2.5" fill="none"/><rect x="0.45" y="0.45" width="42.8" height="144.65" fill="none" stroke="#000" stroke-width="0.9"/></g>
<text transform="translate(1059.18 652) scale(1 1.05)" font-size="17.5">HHX</text>
<path d="M1143.05 498 V488.25 M1132.15 488.25 H1153.95" stroke="#000" stroke-width="1.4" fill="none"/>
<g transform="translate(1121.2 498)"><rect width="43.7" height="135.6" fill="url(#checkk)"/><rect x="0.45" y="0.45" width="42.8" height="135.15" fill="none" stroke="#000" stroke-width="0.9"/></g>
<text transform="translate(1123.38 652) scale(1 1.05)" font-size="17.5">HHN</text>
<path d="M790.2 376.7 V633.6 M783.4 633.6 H1174.9" stroke="#000" stroke-width="1.45" fill="none"/>
<text x="755.59" y="640.1" font-size="18.6">0.0</text>
<path d="M783.4 562.3 H790.2" stroke="#000" stroke-width="1.45"/>
<text x="755.36" y="568.8" font-size="18.6">0.5</text>
<path d="M783.4 490.95 H790.2" stroke="#000" stroke-width="1.45"/>
<text x="755.59" y="497.45" font-size="18.6">1.0</text>
<path d="M783.4 419.6 H790.2" stroke="#000" stroke-width="1.45"/>
<text x="755.36" y="426.1" font-size="18.6">1.5</text>
<text class="s" transform="translate(742.2 630.28) rotate(-90)" font-size="21.5" font-style="italic" stroke-width="0.4">Mpc1</text>
<text class="s" transform="translate(742.2 572.75) rotate(-90)" font-size="21" stroke-width="0.4">transcript level</text>
<text transform="translate(796.63 386.5) scale(0.4985 0.5425)" font-size="100">F</text>
<path d="M882 439.25 H952" stroke="#000" stroke-width="1.75"/>
<path d="M1078.25 445.75 H1148.25" stroke="#000" stroke-width="1.75"/>
<text class="s" x="899.38" y="437.18" font-size="21.7" stroke-width="1.05">###</text>
<text class="s" x="1096.88" y="443.68" font-size="21.7" stroke-width="1.05">###</text>
<text class="s" x="944.47" y="470.74" font-size="18.9" stroke-width="1.5" letter-spacing="2.56">^</text>
<text class="s" x="1062.24" y="473.38" font-size="21.3" stroke-width="0.75">xxx</text>
<text class="s" x="1124.62" y="488.24" font-size="18.9" stroke-width="1.5" letter-spacing="2.56">^^^</text>
</g>
<g>
<path d="M1310.85 505.25 V498.25 M1299.95 498.25 H1321.75" stroke="#000" stroke-width="1.4" fill="none"/>
<g transform="translate(1289 505.25)"><rect width="43.7" height="135.65" fill="#929292"/><rect x="0.45" y="0.45" width="42.8" height="135.2" fill="none" stroke="#5a5a5a" stroke-width="0.9"/></g>
<text transform="translate(1291.42 658) scale(1 1.05)" font-size="17.5">HCS</text>
<path d="M1375.33 494.75 V480.75 M1364.43 480.75 H1386.23" stroke="#000" stroke-width="1.4" fill="none"/>
<g transform="translate(1353.48 494.75)"><clipPath id="c12"><rect width="43.7" height="146.15"/></clipPath><rect width="43.7" height="146.15" fill="#6c6c6c"/><path clip-path="url(#c12)" d="M-149 -2l150.15 150.15M-144.08 -2l150.15 150.15M-139.16 -2l150.15 150.15M-134.24 -2l150.15 150.15M-129.32 -2l150.15 150.15M-124.4 -2l150.15 150.15M-119.48 -2l150.15 150.15M-114.56 -2l150.15 150.15M-109.64 -2l150.15 150.15M-104.72 -2l150.15 150.15M-99.8 -2l150.15 150.15M-94.88 -2l150.15 150.15M-89.96 -2l150.15 150.15M-85.04 -2l150.15 150.15M-80.12 -2l150.15 150.15M-75.2 -2l150.15 150.15M-70.28 -2l150.15 150.15M-65.36 -2l150.15 150.15M-60.44 -2l150.15 150.15M-55.52 -2l150.15 150.15M-50.6 -2l150.15 150.15M-45.68 -2l150.15 150.15M-40.76 -2l150.15 150.15M-35.84 -2l150.15 150.15M-30.92 -2l150.15 150.15M-26 -2l150.15 150.15M-21.08 -2l150.15 150.15M-16.16 -2l150.15 150.15M-11.24 -2l150.15 150.15M-6.32 -2l150.15 150.15M-1.4 -2l150.15 150.15M3.52 -2l150.15 150.15M8.44 -2l150.15 150.15M13.36 -2l150.15 150.15M18.28 -2l150.15 150.15M23.2 -2l150.15 150.15M28.12 -2l150.15 150.15M33.04 -2l150.15 150.15M37.96 -2l150.15 150.15M42.88 -2l150.15 150.15" stroke="#fff" stroke-width="1.55" fill="none"/><rect x="0.45" y="0.45" width="42.8" height="145.7" fill="none" stroke="#5a5a5a" stroke-width="0.9"/></g>
<text transform="translate(1355.64 658) scale(1 1.05)" font-size="17.5">HCX</text>
<path d="M1439.81 491 V482 M1428.91 482 H1450.71" stroke="#000" stroke-width="1.4" fill="none"/>
<g transform="translate(1417.96 491)"><rect width="43.7" height="149.9" fill="url(#checkg)"/><rect x="0.45" y="0.45" width="42.8" height="149.45" fill="none" stroke="#5a5a5a" stroke-width="0.9"/></g>
<text transform="translate(1420.14 658) scale(1 1.05)" font-size="17.5">HCN</text>
<path d="M1504.29 499.25 V490.5 M1493.39 490.5 H1515.19" stroke="#000" stroke-width="1.4" fill="none"/>
<g transform="translate(1482.44 499.25)"><rect width="43.7" height="141.65" fill="#000"/><rect x="0.45" y="0.45" width="42.8" height="141.2" fill="none" stroke="#000" stroke-width="0.9"/></g>
<text transform="translate(1484.87 658) scale(1 1.05)" font-size="17.5">HHS</text>
<path d="M1568.77 472.5 V461 M1557.87 461 H1579.67" stroke="#000" stroke-width="1.4" fill="none"/>
<g transform="translate(1546.92 472.5)"><clipPath id="c13"><rect width="43.7" height="168.4"/></clipPath><rect width="43.7" height="168.4" fill="#000"/><path clip-path="url(#c13)" d="M-176.57 -2l172.4 172.4M-166.73 -2l172.4 172.4M-156.89 -2l172.4 172.4M-147.05 -2l172.4 172.4M-137.21 -2l172.4 172.4M-127.37 -2l172.4 172.4M-117.53 -2l172.4 172.4M-107.69 -2l172.4 172.4M-97.85 -2l172.4 172.4M-88.01 -2l172.4 172.4M-78.17 -2l172.4 172.4M-68.33 -2l172.4 172.4M-58.49 -2l172.4 172.4M-48.65 -2l172.4 172.4M-38.81 -2l172.4 172.4M-28.97 -2l172.4 172.4M-19.13 -2l172.4 172.4M-9.29 -2l172.4 172.4M0.55 -2l172.4 172.4M10.39 -2l172.4 172.4M20.23 -2l172.4 172.4M30.07 -2l172.4 172.4M39.91 -2l172.4 172.4M49.75 -2l172.4 172.4" stroke="#fff" stroke-width="2.5" fill="none"/><rect x="0.45" y="0.45" width="42.8" height="167.95" fill="none" stroke="#000" stroke-width="0.9"/></g>
<text transform="translate(1549.08 658) scale(1 1.05)" font-size="17.5">HHX</text>
<path d="M1633.25 440.5 V426.5 M1622.35 426.5 H1644.15" stroke="#000" stroke-width="1.4" fill="none"/>
<g transform="translate(1611.4 440.5)"><rect width="43.7" height="200.4" fill="url(#checkk)"/><rect x="0.45" y="0.45" width="42.8" height="199.95" fill="none" stroke="#000" stroke-width="0.9"/></g>
<text transform="translate(1613.58 658) scale(1 1.05)" font-size="17.5">HHN</text>
<path d="M1279.2 382.3 V640.9 M1272.4 640.9 H1665.1" stroke="#000" stroke-width="1.45" fill="none"/>
<text x="1244.59" y="647.4" font-size="18.6">0.0</text>
<path d="M1272.4 579.2 H1279.2" stroke="#000" stroke-width="1.45"/>
<text x="1244.36" y="585.7" font-size="18.6">0.5</text>
<path d="M1272.4 517.5 H1279.2" stroke="#000" stroke-width="1.45"/>
<text x="1244.59" y="524" font-size="18.6">1.0</text>
<path d="M1272.4 455.9 H1279.2" stroke="#000" stroke-width="1.45"/>
<text x="1244.36" y="462.4" font-size="18.6">1.5</text>
<path d="M1272.4 394.2 H1279.2" stroke="#000" stroke-width="1.45"/>
<text x="1244.59" y="400.7" font-size="18.6">2.0</text>
<text class="s" transform="translate(1232.5 631.88) rotate(-90)" font-size="21.5" font-style="italic" stroke-width="0.4">Hadh</text>
<text class="s" transform="translate(1232.5 575.75) rotate(-90)" font-size="21" stroke-width="0.4">transcript level</text>
<text transform="translate(1284.14 392.45) scale(0.5141 0.5477)" font-size="100">G</text>
<path d="M1568.25 384.75 H1638.75" stroke="#000" stroke-width="1.75"/>
<path d="M1372.5 465.75 H1443" stroke="#000" stroke-width="1.75"/>
<path d="M1502.5 400.75 H1547.5" stroke="#000" stroke-width="1.75"/>
<path d="M1584.5 400.75 H1629.5" stroke="#000" stroke-width="1.75"/>
<text class="s" x="1596.95" y="381.23" font-size="21.7" stroke-width="1.05">#</text>
<text class="s" x="1401.45" y="462.73" font-size="21.7" stroke-width="1.05">#</text>
<text class="s" x="1553.58" y="413.17" font-size="21.7" stroke-width="0.3">***</text>
<text class="s" x="1622.17" y="423.34" font-size="18.9" stroke-width="1.5" letter-spacing="2.56">^^</text>
</g>
</svg>
</body></html>
